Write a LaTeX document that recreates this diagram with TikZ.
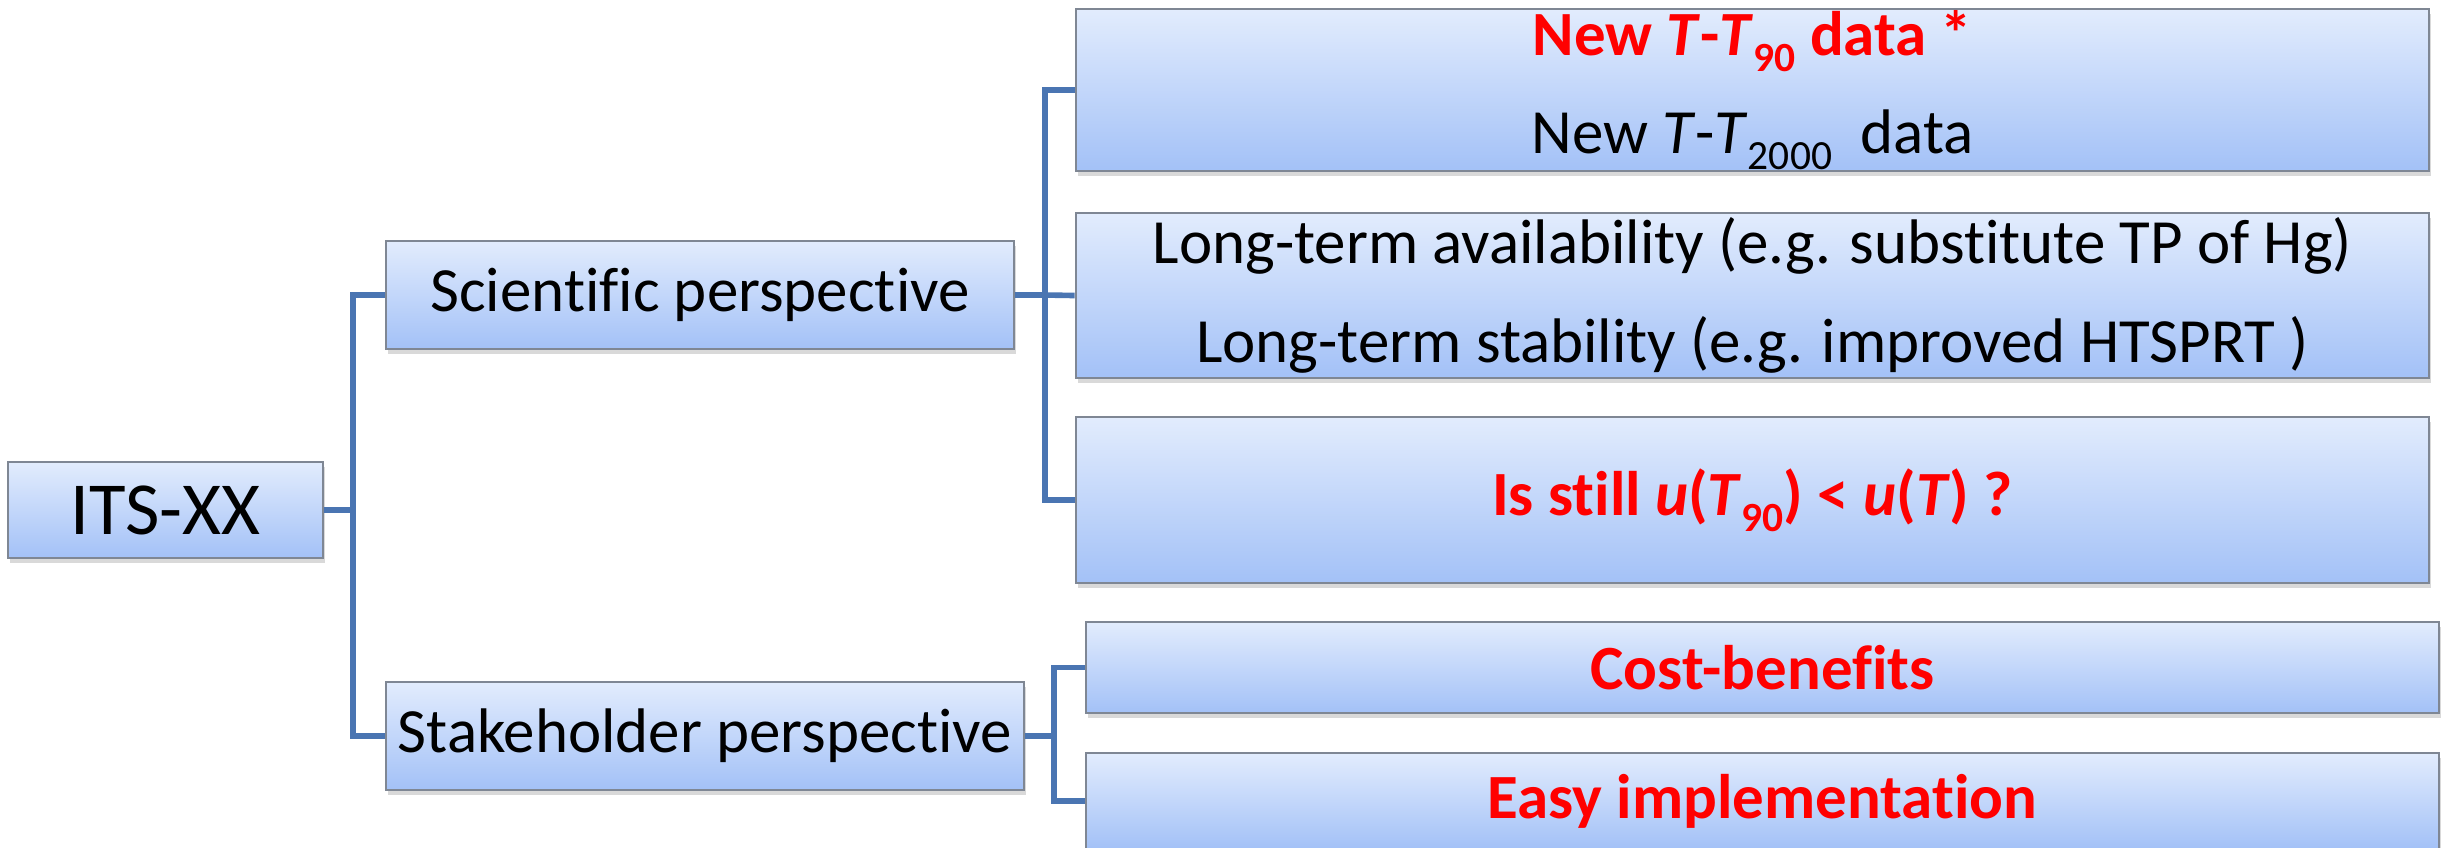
\documentclass[tikz,border=0pt]{standalone}
\usepackage{fontspec}
\setmainfont{Carlito}[Ligatures=NoCommon]
\usetikzlibrary{shadows}
\definecolor{linkblue}{HTML}{4A75B2}
\definecolor{boxtop}{HTML}{E2ECFD}
\definecolor{boxbot}{HTML}{A3C1F7}
\definecolor{boxedge}{HTML}{7F8794}
\definecolor{hot}{HTML}{FF0000}
% tiefgestellter Index wie in der Vorlage
\newcommand{\idx}[1]{\raisebox{-0.25em}{\fontsize{11.8}{12}\selectfont #1}}

\begin{document}
\begin{tikzpicture}[x=0.01cm, y=-0.01cm,
  box/.style={draw=boxedge, line width=0.6pt, top color=boxtop, bottom color=boxbot,
    drop shadow={shadow xshift=0.02cm, shadow yshift=-0.05cm, opacity=0.3},
    inner sep=0pt, align=center, font=\fontsize{17.9}{28}\selectfont},
  link/.style={draw=linkblue, line width=1.6pt},
  hotbf/.style={text=hot, font=\fontsize{17.9}{28}\selectfont\bfseries}]
  % Rahmen 2459 x 847
  \useasboundingbox (0,0) rectangle (2459,847);
  % Wurzel
  \node[box, minimum width=3.15cm, minimum height=0.96cm, font=\fontsize{21.3}{26}\selectfont]
    (its) at (165.5,510) {ITS-XX};
  % erste Ebene
  \node[box, minimum width=6.28cm, minimum height=1.08cm] (sci) at (700,295) {Scientific perspective};
  \node[box, minimum width=6.38cm, minimum height=1.08cm] (stk) at (705,736) {Stakeholder perspective};
  % zweite Ebene (wissenschaftlich)
  \node[box, minimum width=13.53cm, minimum height=1.62cm] (tdata) at (1752.5,90)
    {\textcolor{hot}{\bfseries New \textit{T}-\textit{T}\idx{90} data *}\\
     New \textit{T}-\textit{T}\idx{2000}~ data};
  \node[box, minimum width=13.53cm, minimum height=1.65cm] (longt) at (1752.5,295.5)
    {Long-term availability (e.g. substitute TP of Hg)\\
     Long-term stability (e.g. improved HTSPRT )};
  \node[box, hotbf, minimum width=13.53cm, minimum height=1.66cm] (still) at (1752.5,500)
    {Is still \textit{u}(\textit{T}\idx{90}) < \textit{u}(\textit{T}) ?};
  % zweite Ebene (Stakeholder)
  \node[box, hotbf, minimum width=13.53cm, minimum height=0.91cm] (cost) at (1762.5,667.5) {Cost-benefits};
  \node[box, hotbf, minimum width=13.53cm, minimum height=0.96cm] (easy) at (1762.5,801) {Easy implementation};
  % Verbindungen
  \coordinate (j1) at (353,510);
  \coordinate (j2) at (1045,295);
  \coordinate (j3) at (1054,736);
  \draw[link] (its.east) -- (j1) |- (sci.west);
  \draw[link] (j1) |- (stk.west);
  \draw[link] (sci.east) -- (j2) -- (longt.west);
  \draw[link] (j2) |- (tdata.west);
  \draw[link] (j2) |- (still.west);
  \draw[link] (stk.east) -- (j3) |- (cost.west);
  \draw[link] (j3) |- (easy.west);
\end{tikzpicture}
\end{document}
